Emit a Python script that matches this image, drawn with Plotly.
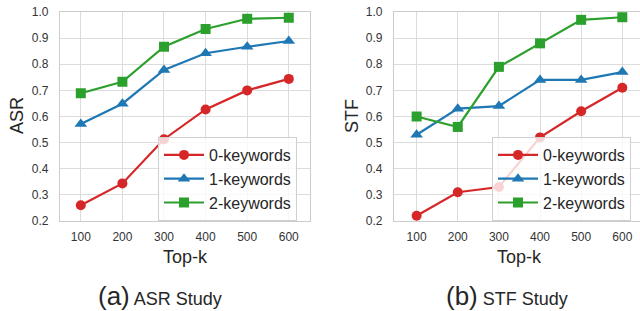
import plotly.graph_objects as go

topk = [100, 200, 300, 400, 500, 600]
series_names = ["0-keywords", "1-keywords", "2-keywords"]

asr_0kw = [0.26, 0.344, 0.513, 0.627, 0.700, 0.744]
asr_1kw = [0.571, 0.649, 0.778, 0.842, 0.867, 0.889]
asr_2kw = [0.689, 0.733, 0.867, 0.935, 0.974, 0.978]

stf_0kw = [0.22, 0.31, 0.33, 0.52, 0.62, 0.71]
stf_1kw = [0.53, 0.63, 0.64, 0.74, 0.74, 0.77]
stf_2kw = [0.60, 0.56, 0.79, 0.88, 0.97, 0.98]

y_ticks = [0.2, 0.3, 0.4, 0.5, 0.6, 0.7, 0.8, 0.9, 1.0]
y_ticklabels = ["0.2", "0.3", "0.4", "0.5", "0.6", "0.7", "0.8", "0.9", "1.0"]

colors = ["#d62728", "#1f77b4", "#2ca02c"]
symbols = ["circle", "triangle-up", "square"]

W, H = 640, 311
FONT = "Liberation Sans, Arial, sans-serif"
TXT = "#262626"
GRID = "#dcdcdc"

fig = go.Figure()

panels = [
    ("x", "y", "legend", [asr_0kw, asr_1kw, asr_2kw]),
    ("x2", "y2", "legend2", [stf_0kw, stf_1kw, stf_2kw]),
]
for xa, ya, lg, data in panels:
    for name, vals, c, s in zip(series_names, data, colors, symbols):
        fig.add_trace(go.Scatter(
            x=topk, y=vals, name=name, mode="lines+markers",
            line=dict(color=c, width=2.2),
            marker=dict(symbol=s, size=10 if s != "triangle-up" else 11, color=c),
            xaxis=xa, yaxis=ya, legend=lg,
        ))

ydom = [1 - 221 / H, 1 - 12 / H]
axis_common = dict(
    showgrid=True, gridcolor=GRID, gridwidth=1.2,
    showline=True, linecolor="#cccccc", linewidth=1.2, mirror=True,
    zeroline=False, automargin=False,
    tickfont=dict(family=FONT, size=12, color="#333333"),
    ticks="outside", tickcolor="rgba(0,0,0,0)",
)

leg_common = dict(
    xanchor="left", yanchor="top",
    bgcolor="rgba(255,255,255,0.8)", bordercolor="#d0d0d0", borderwidth=1,
    font=dict(family=FONT, size=16, color=TXT), itemwidth=40,
    tracegroupgap=0,
)

fig.update_layout(
    width=W, height=H,
    margin=dict(l=0, r=0, t=0, b=0, autoexpand=False),
    paper_bgcolor="white", plot_bgcolor="white",
    font=dict(family=FONT, color=TXT),
    xaxis=dict(domain=[60 / W, 310 / W], range=[50, 651], tickvals=topk,
               ticklen=4, anchor="y", **axis_common),
    yaxis=dict(domain=ydom, range=[0.2, 1.0], tickvals=y_ticks, ticktext=y_ticklabels,
               ticklen=8, anchor="x", **axis_common),
    xaxis2=dict(domain=[394 / W, 1.0], range=[45, 643], tickvals=topk,
                ticklen=4, anchor="y2", **axis_common),
    yaxis2=dict(domain=ydom, range=[0.2, 1.0], tickvals=y_ticks, ticktext=y_ticklabels,
                ticklen=8, anchor="x2", **axis_common),
    legend=dict(x=158 / W, y=1 - 137 / H, **leg_common),
    legend2=dict(x=492 / W, y=1 - 137 / H, **leg_common),
    showlegend=True,
)

ann = [
    dict(text="ASR", x=17 / W, y=1 - 116 / H, textangle=-90, size=18),
    dict(text="STF", x=352 / W, y=1 - 116 / H, textangle=-90, size=18),
    dict(text="Top-k", x=185 / W, y=1 - 257 / H, size=18),
    dict(text="Top-k", x=519 / W, y=1 - 257 / H, size=18),
    dict(text="<span style='font-size:26px'>(a)</span> ASR Study", x=160 / W, y=1 - 296 / H, size=18),
    dict(text="<span style='font-size:26px'>(b)</span> STF Study", x=507 / W, y=1 - 296 / H, size=18),
]
for a in ann:
    size = a.pop("size")
    fig.add_annotation(xref="paper", yref="paper", showarrow=False,
                       xanchor="center", yanchor="middle",
                       font=dict(family=FONT, color=TXT, size=size), **a)

fig.write_html("out.html", config={"displayModeBar": False},
               post_script="document.body.style.margin='0';document.body.style.overflow='hidden';")
